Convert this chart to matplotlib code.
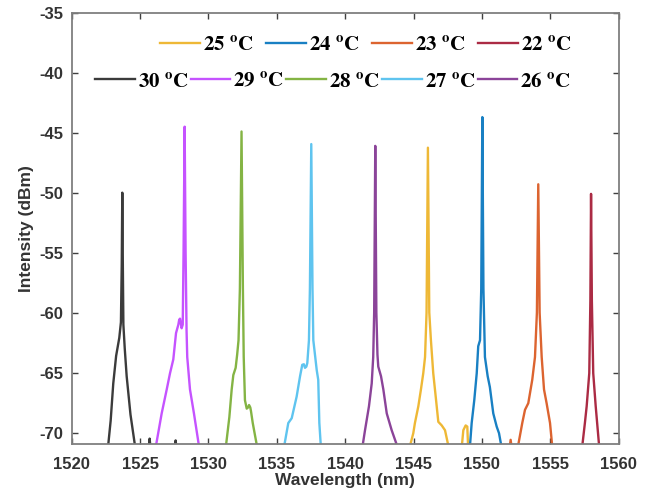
"""Temperature-tuned laser spectra, 22-30 C."""

import matplotlib
matplotlib.use("Agg")
import matplotlib.pyplot as plt

plt.rcParams["font.family"] = ["Liberation Sans", "DejaVu Sans"]
plt.rcParams["mathtext.fontset"] = "stix"
plt.rcParams["axes.unicode_minus"] = False

temps = ["30", "29", "28", "27", "26", "25", "24", "23", "22"]
colors = ["#262626", "#BF40FF", "#77AC30", "#4DBEEE", "#7E2F8E",
          "#EDB120", "#0072BD", "#D95319", "#A2142F"]

wl_30 = [1522.63, 1522.85, 1523.04, 1523.25, 1523.48, 1523.60, 1523.66, 1523.70,
         1523.74, 1523.78, 1523.88, 1524.02, 1524.30, 1524.68,
         1525.62, 1525.70, 1525.78, 1527.52, 1527.60, 1527.68]
db_30 = [-71.5, -69.0, -65.9, -63.6, -62.1, -60.8, -56.0, -50.0,
         -56.0, -61.0, -63.0, -65.3, -68.5, -71.5,
         -71.5, -70.5, -71.5, -71.5, -70.65, -71.5]

wl_29 = [1526.10, 1526.58, 1526.95, 1527.19, 1527.43, 1527.63, 1527.80, 1527.86,
         1527.92, 1528.04, 1528.12, 1528.18, 1528.26, 1528.33, 1528.40, 1528.45,
         1528.65, 1528.94, 1529.36]
db_29 = [-71.5, -68.4, -66.4, -65.05, -63.9, -61.7, -61.0, -60.6,
         -60.5, -61.3, -61.0, -55.0, -44.5, -55.0, -61.5, -63.7,
         -66.4, -68.4, -71.5]

wl_28 = [1531.24, 1531.53, 1531.70, 1531.82, 1531.99, 1532.10, 1532.20, 1532.30,
         1532.42, 1532.52, 1532.58, 1532.67, 1532.80, 1532.90, 1532.97, 1533.06,
         1533.11, 1533.24, 1533.61]
db_28 = [-71.5, -68.7, -66.4, -65.2, -64.6, -63.5, -62.3, -58.0,
         -44.9, -58.0, -63.7, -67.3, -68.0, -67.9, -67.7, -67.9,
         -68.2, -69.2, -71.5]

wl_27 = [1535.48, 1535.84, 1536.09, 1536.45, 1536.70, 1536.86, 1536.98, 1537.06,
         1537.16, 1537.23, 1537.35, 1537.42, 1537.52, 1537.61, 1537.67, 1537.92,
         1538.03, 1538.11, 1538.24]
db_27 = [-71.5, -69.2, -68.8, -67.0, -65.3, -64.35, -64.3, -64.6,
         -64.5, -64.2, -62.3, -58.0, -45.95, -58.0, -62.3, -64.8,
         -65.6, -69.2, -71.5]

wl_26 = [1541.22, 1541.45, 1541.74, 1541.94, 1542.05, 1542.12, 1542.20, 1542.28,
         1542.36, 1542.42, 1542.62, 1542.79, 1543.04, 1543.40, 1543.92]
db_26 = [-71.5, -69.8, -67.8, -65.9, -63.7, -60.0, -46.1, -60.0,
         -63.5, -64.5, -65.3, -66.4, -68.4, -69.8, -71.5]

wl_25 = [1544.65, 1544.98, 1545.10, 1545.35, 1545.54, 1545.71, 1545.84, 1545.95,
         1546.05, 1546.15, 1546.27, 1546.44, 1546.62, 1546.81, 1547.06, 1547.30,
         1547.62, 1548.50, 1548.64, 1548.81, 1548.93, 1549.00]
db_25 = [-71.5, -70.05, -69.2, -67.8, -66.4, -65.05, -63.7, -60.0,
         -46.25, -60.0, -62.3, -65.05, -67.0, -69.1, -69.4, -69.8,
         -71.5, -71.5, -69.8, -69.4, -69.5, -71.5]

wl_24 = [1549.10, 1549.25, 1549.44, 1549.62, 1549.73, 1549.86, 1549.95, 1550.03,
         1550.11, 1550.22, 1550.42, 1550.58, 1550.83, 1551.08, 1551.25, 1551.48]
db_24 = [-71.5, -69.2, -67.3, -65.05, -62.8, -62.3, -58.0, -43.7,
         -58.0, -63.7, -65.3, -66.2, -68.4, -69.5, -70.05, -71.5]

wl_23 = [1552.00, 1552.10, 1552.20, 1552.58, 1552.95, 1553.15, 1553.39, 1553.68,
         1553.88, 1554.02, 1554.12, 1554.22, 1554.37, 1554.54, 1554.73, 1554.98,
         1555.17]
db_23 = [-71.5, -70.6, -71.5, -71.5, -69.2, -68.1, -67.55, -65.6,
         -63.7, -60.0, -49.3, -60.0, -63.7, -66.4, -67.55, -69.2,
         -71.5]

wl_22 = [1557.30, 1557.53, 1557.66, 1557.85, 1557.93, 1557.98, 1558.04, 1558.14,
         1558.32, 1558.60]
db_22 = [-71.5, -69.2, -67.8, -65.05, -59.0, -50.1, -59.0, -65.05,
         -67.8, -71.5]

wavelengths = [wl_30, wl_29, wl_28, wl_27, wl_26, wl_25, wl_24, wl_23, wl_22]
intensities = [db_30, db_29, db_28, db_27, db_26, db_25, db_24, db_23, db_22]

x_ticks = [1520, 1525, 1530, 1535, 1540, 1545, 1550, 1555, 1560]
y_ticks = [-70, -65, -60, -55, -50, -45, -40, -35]

fig = plt.figure(figsize=(6.5, 4.91), dpi=100)
ax = fig.add_axes([0.1103, 0.0957, 0.8415, 0.8784])

lines = {}
for t, c, wl, db in zip(temps, colors, wavelengths, intensities):
    (ln,) = ax.plot(wl, db, color=c, linewidth=1.7, alpha=0.9)
    lines[t] = ln

ax.set_xlim(1520, 1560)
ax.set_ylim(-70.95, -35)
ax.set_xticks(x_ticks)
ax.set_yticks(y_ticks)

axis_grey = "#7f7f7f"
for sp in ax.spines.values():
    sp.set_color(axis_grey)
    sp.set_linewidth(1.3)
ax.tick_params(direction="in", top=True, right=True, length=4, width=1,
               color="#404040", labelcolor="#333333", labelsize=12)
ax.tick_params(axis="x", pad=9)
ax.tick_params(axis="y", pad=6)
for lab in ax.get_xticklabels() + ax.get_yticklabels():
    lab.set_fontweight("bold")

ax.set_xlabel("Wavelength (nm)", fontsize=12.5, fontweight="bold",
              color="#333333", labelpad=1)
ax.set_ylabel("Intensity (dBm)", fontsize=12.5, fontweight="bold",
              color="#333333", labelpad=4)


def label(t):
    return r"$\mathbf{" + t + r"\ ^{o}C}$"


W, H = 650.0, 491.0
top_row = ["25", "24", "23", "22"]
bottom_row = ["30", "29", "28", "27", "26"]
common = dict(frameon=False, fontsize=15, handlelength=1.9, handletextpad=0.15,
              borderpad=0, borderaxespad=0, loc="center left",
              bbox_transform=fig.transFigure)
leg1 = fig.legend([lines[t] for t in top_row], [label(t) for t in top_row],
                  ncol=4, columnspacing=0.6,
                  bbox_to_anchor=(160 / W, 1 - 45 / H), **common)
leg2 = fig.legend([lines[t] for t in bottom_row], [label(t) for t in bottom_row],
                  ncol=5, columnspacing=0.1,
                  bbox_to_anchor=(95 / W, 1 - 81 / H), **common)

fig.savefig("out.png", dpi=100)
